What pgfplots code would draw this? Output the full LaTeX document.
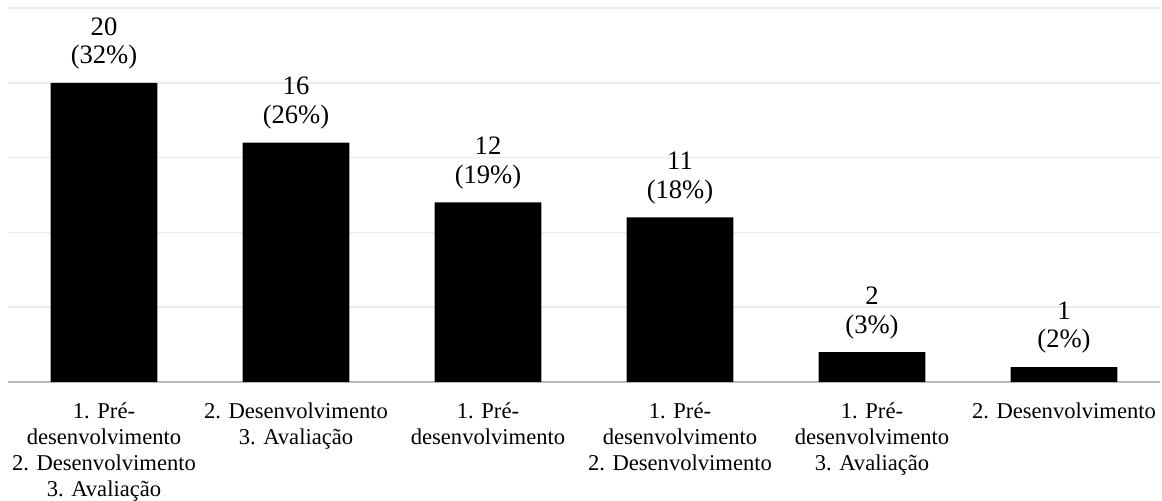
\documentclass[border=0pt]{standalone}
\usepackage{fontspec}
\setmainfont{Liberation Serif}
\usepackage{pgfplots}
\pgfplotsset{compat=1.18}
\begin{document}
\begin{tikzpicture}
\begin{axis}[
  scale only axis, width=576pt, height=187pt,
  xmin=-0.5, xmax=5.5, ymin=0, ymax=25,
  axis x line=bottom, axis y line=left,
  x axis line style={-, draw=black!27, line width=1pt},
  y axis line style={draw=none},
  ytick={5,10,...,25}, yticklabel=\empty,
  yticklabel style={inner sep=0pt, outer sep=0pt},
  ymajorgrids, major grid style={draw=black!8, line width=0.8pt},
  xtick={0,...,5},
  tick style={draw=none},
  xticklabels={{1. Pré-\\desenvolvimento\\2. Desenvolvimento\\3. Avaliação},
               {2. Desenvolvimento\\3. Avaliação},
               {1. Pré-\\desenvolvimento},
               {1. Pré-\\desenvolvimento\\2. Desenvolvimento},
               {1. Pré-\\desenvolvimento\\3. Avaliação},
               {2. Desenvolvimento}},
  xticklabel style={align=center, font=\fontsize{11.3}{12.9}\selectfont, inner sep=0pt, anchor=north, yshift=-6pt},
  ybar, bar width=0.557,
  nodes near coords, point meta=explicit symbolic,
  nodes near coords style={align=center, font=\fontsize{13.3}{14.3}\selectfont, anchor=south, inner sep=0pt, yshift=6.5pt, text=black},
]
\addplot[fill=black, draw=none] coordinates {
  (0,20) [{20\\(32\%)}]
  (1,16) [{16\\(26\%)}]
  (2,12) [{12\\(19\%)}]
  (3,11) [{11\\(18\%)}]
  (4,2)  [{2\\(3\%)}]
  (5,1)  [{1\\(2\%)}]
};
\end{axis}
\path ([xshift=-4pt,yshift=4pt]current axis.north west) ([xshift=1pt]current axis.east);
\end{tikzpicture}
\end{document}
